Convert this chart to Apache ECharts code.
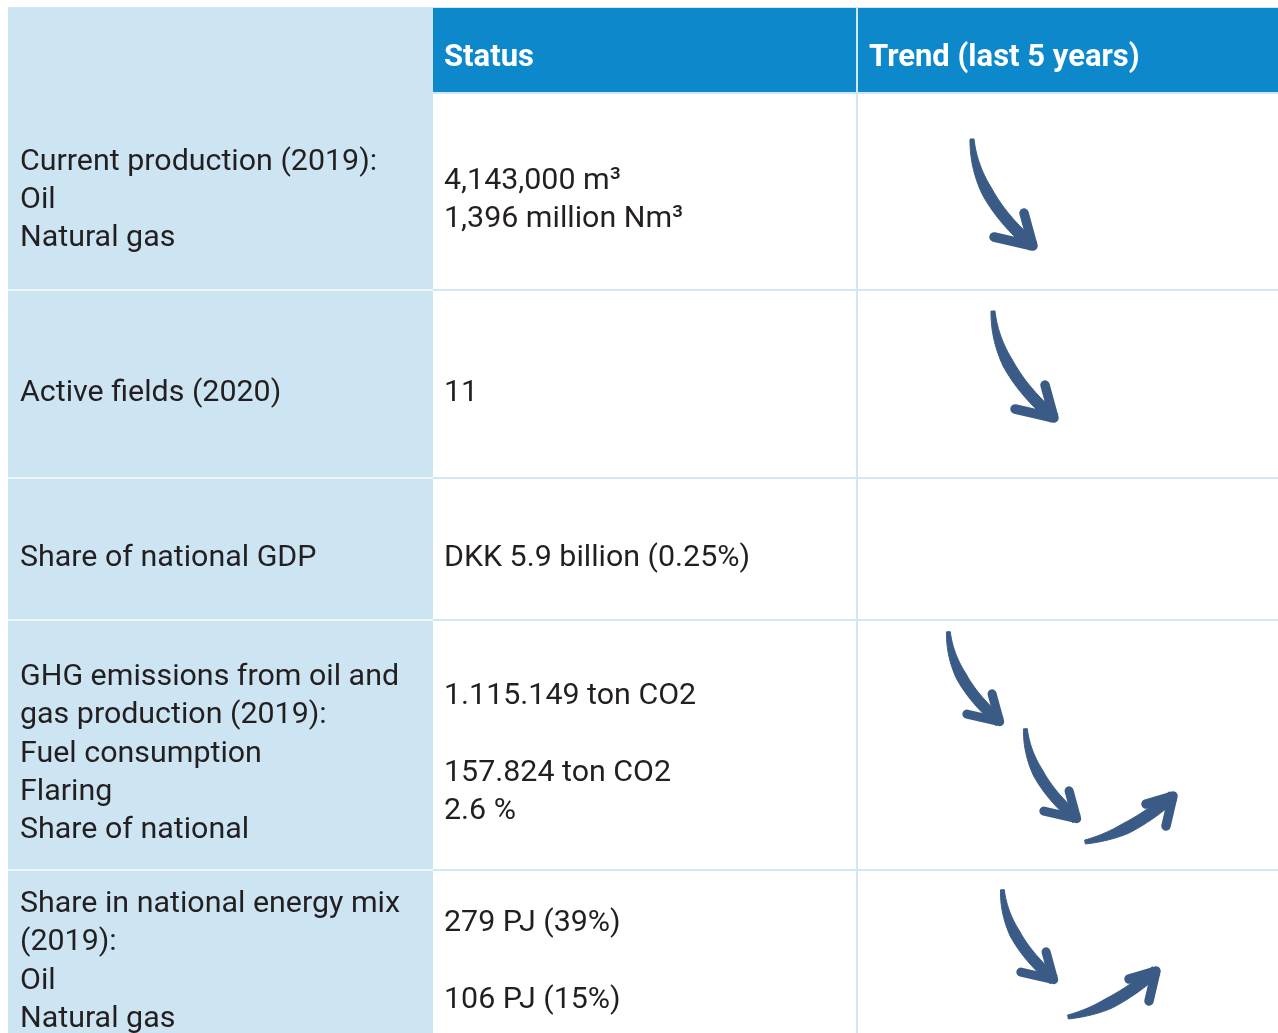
<!DOCTYPE html>
<html>
<head>
<meta charset="utf-8">
<style>html,body{margin:0;padding:0;background:#fff}#main{width:1278px;height:1033px}</style>
<script src="https://cdn.jsdelivr.net/npm/echarts@6/dist/echarts.min.js"></script>
</head>
<body>
<div id="main"></div>
<script>
// ---------------- data ----------------
const headers = ['', 'Status', 'Trend (last 5 years)'];
const indicators = [
  ['Current production (2019):', 'Oil', 'Natural gas'],
  ['Active fields (2020)'],
  ['Share of national GDP'],
  ['GHG emissions from oil and', 'gas production (2019):', 'Fuel consumption', 'Flaring', 'Share of national'],
  ['Share in national energy mix', '(2019):', 'Oil', 'Natural gas']
];
const statuses = [
  ['4,143,000 m\u00B3', '1,396 million Nm\u00B3'],
  ['11'],
  ['DKK 5.9 billion (0.25%)'],
  ['1.115.149 ton CO2', '', '157.824 ton CO2', '2.6 %'],
  ['279 PJ (39%)', '', '106 PJ (15%)']
];
const trends = [['down'], ['down'], [], ['down', 'down', 'up'], ['down', 'up']];

// ---------------- layout & style ----------------
const colEdges = [0, 425, 849, 1270];
const rowEdges = [0, 85, 282, 470, 612, 862, 1028];
// arrow tip position inside the trend cell (x, y from the cell's top-left) and size factor
const arrowSlots = [
  [[180, 157, 1]],
  [[201, 132, 1]],
  [],
  [[146, 105, 0.84], [223, 202, 0.84], [320, 172, 1]],
  [[200, 113, 0.84], [303, 97, 1]]
];
const ARROW_SHAPES = {
  down: { curve: [[-65, -111], [-63, -70], [-40, -35], [-4, -4]], head: [[-13, -37], [-4, -4], [-43, -13]] },
  up:   { curve: [[-92, 50], [-60, 44], [-35, 30], [-4, 4]],      head: [[-31, 12], [-4, 4], [-11, 34]] }
};
const LEFT_BG = '#cde5f2';
const HEAD_BG = '#0d88cb';
const LINE_BLUE = '#cfe7f6';
const LINE_LEFT = '#eef6fb';
const ARROW_COLOR = '#3b5b87';
const TEXT_COLOR = '#231f20';
const BODY_FONT = '30.4px Roboto';
const HEAD_FONT = 'bold 31px Roboto';
const LH = 38.3;
const TEXT_DY = 9;
const HEAD_DY = 7.5;
const PAD_LEFT = 12, PAD_STATUS = 11, PAD_HEAD = 11;

function cubic(p, t) {
  const u = 1 - t;
  return [
    u*u*u*p[0][0] + 3*u*u*t*p[1][0] + 3*u*t*t*p[2][0] + t*t*t*p[3][0],
    u*u*u*p[0][1] + 3*u*u*t*p[1][1] + 3*u*t*t*p[2][1] + t*t*t*p[3][1]
  ];
}

function arrowElements(dir, tip, s) {
  const shp = ARROW_SHAPES[dir];
  const pts = shp.curve.map(q => [tip[0] + q[0]*s, tip[1] + q[1]*s]);
  const N = 40, left = [], right = [];
  for (let i = 0; i <= N; i++) {
    const t = i / N;
    const a = cubic(pts, t);
    const b = cubic(pts, Math.min(1, t + 0.01));
    const c = cubic(pts, Math.max(0, t - 0.01));
    let dx = b[0] - c[0], dy = b[1] - c[1];
    const len = Math.sqrt(dx*dx + dy*dy) || 1;
    dx /= len; dy /= len;
    const w = (2 + 3.6 * Math.min(1, t * 2.2)) * (0.7 + 0.3*s);
    left.push([a[0] - dy*w, a[1] + dx*w]);
    right.push([a[0] + dy*w, a[1] - dx*w]);
  }
  const poly = left.concat(right.reverse());
  const head = shp.head.map(q => [tip[0] + q[0]*s, tip[1] + q[1]*s]);
  return [
    { type: 'polygon', shape: { points: poly }, style: { fill: ARROW_COLOR, stroke: ARROW_COLOR, lineWidth: 1, lineJoin: 'round' } },
    { type: 'polyline', shape: { points: head },
      style: { stroke: ARROW_COLOR, fill: null, lineWidth: 9.5*(0.75+0.25*s), lineCap: 'round', lineJoin: 'round' } }
  ];
}

const chart = echarts.init(document.getElementById('main'), null, { renderer: 'canvas' });

const rowData = [[0, 0]].concat(indicators.map((_, i) => [i + 1, 0]));

chart.setOption({
  animation: false,
  grid: { left: 8, right: 0, top: 8, bottom: 0 },
  xAxis: { type: 'value', min: 0, max: 1270, show: false },
  yAxis: { type: 'value', min: 0, max: 1025, inverse: true, show: false },
  series: [{
    type: 'custom',
    coordinateSystem: 'cartesian2d',
    clip: false,
    data: rowData,
    renderItem: function (params, api) {
      const r = api.value(0);
      const P = (x, y) => api.coord([x, y]);
      const children = [];
      const rect = (x0, y0, x1, y1, fill) => {
        const a = P(x0, y0), b = P(x1, y1);
        children.push({ type: 'rect', shape: { x: a[0], y: a[1], width: b[0] - a[0], height: b[1] - a[1] }, style: { fill: fill } });
      };
      const text = (str, x, y, font, fill) => {
        const p = P(x, y);
        children.push({ type: 'text', style: { text: str, x: p[0], y: p[1], font: font, fill: fill, align: 'left', verticalAlign: 'middle' } });
      };
      if (r === 0) {
        rect(colEdges[0], rowEdges[0], colEdges[1], rowEdges[rowEdges.length - 1] + 20, LEFT_BG);
        rect(colEdges[1], rowEdges[0], colEdges[3], rowEdges[1], HEAD_BG);
        rect(colEdges[0], rowEdges[0] - 1, colEdges[3], rowEdges[0], LINE_BLUE);
        rect(colEdges[1], rowEdges[1] - 1, colEdges[3], rowEdges[1] + 1, LINE_BLUE);
        rect(colEdges[2] - 1, rowEdges[0], colEdges[2] + 1, rowEdges[rowEdges.length - 1] + 20, LINE_BLUE);
        headers.forEach((h, c) => {
          if (!h) return;
          text(h, colEdges[c] + PAD_HEAD + (c === 2 ? 1 : 0), (rowEdges[0] + rowEdges[1]) / 2 + HEAD_DY, HEAD_FONT, '#ffffff');
        });
      } else {
        const i = r - 1;
        const top = rowEdges[r], bot = rowEdges[r + 1];
        if (r > 1) {
          rect(colEdges[0], top - 1, colEdges[1], top + 1, LINE_LEFT);
          rect(colEdges[1], top - 1, colEdges[3], top + 1, LINE_BLUE);
        }
        const cy = (top + bot) / 2 + TEXT_DY;
        const L = indicators[i];
        L.forEach((s, k) => text(s, colEdges[0] + PAD_LEFT, cy + (k - (L.length - 1) / 2) * LH, BODY_FONT, TEXT_COLOR));
        const S = statuses[i];
        S.forEach((s, k) => { if (s) text(s, colEdges[1] + PAD_STATUS, cy + (k - (S.length - 1) / 2) * LH, BODY_FONT, TEXT_COLOR); });
        trends[i].forEach((dir, k) => {
          const slot = arrowSlots[i][k];
          const tip = P(colEdges[2] + slot[0], top + slot[1]);
          arrowElements(dir, tip, slot[2]).forEach(e => children.push(e));
        });
      }
      return { type: 'group', children: children };
    }
  }]
});
</script>
</body>
</html>
